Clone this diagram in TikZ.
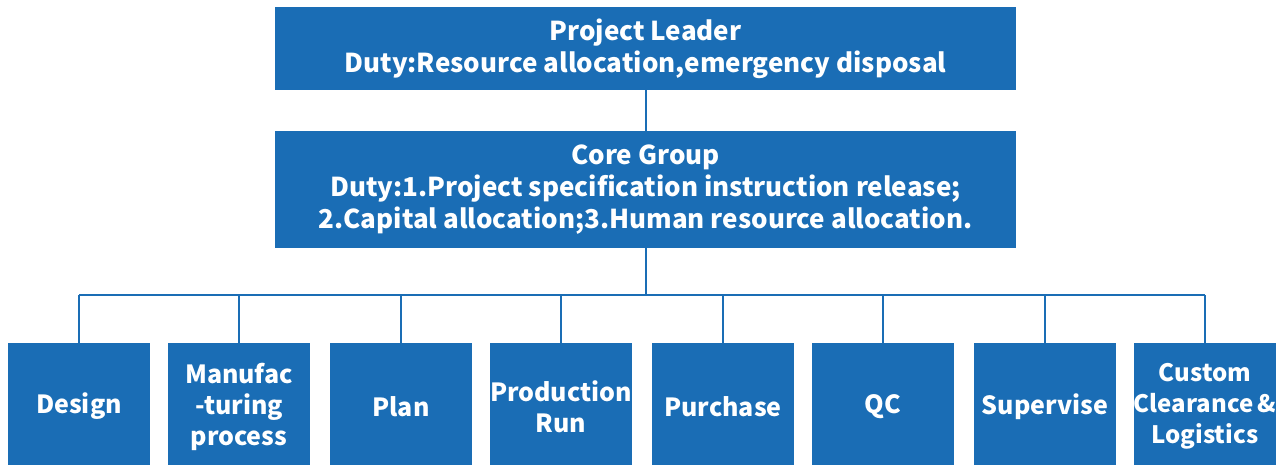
\documentclass[tikz,border=0pt]{standalone}
\usepackage{fontspec}
\setmainfont{Noto Sans CJK SC}
\definecolor{boxblue}{HTML}{1A6DB5}
\begin{document}
\begin{tikzpicture}[x=1pt,y=-1pt,
  box/.style={fill=boxblue,draw=none,text=white,font=\bfseries\fontsize{25}{31}\selectfont,align=center,inner sep=0pt},
  bigbox/.style={box,font=\bfseries\fontsize{26}{32}\selectfont},
  link/.style={draw=boxblue,line width=2pt}]
\useasboundingbox (0,0) rectangle (1285,465);
\node[bigbox,minimum width=741pt,minimum height=83pt] (lead) at (645.5,48.5) {Project Leader\\Duty:Resource allocation,emergency disposal};
\node[bigbox,minimum width=741pt,minimum height=117pt] (core) at (645.5,189.5) {Core Group\\Duty:1.Project specification instruction release;\\2.Capital allocation;3.Human resource allocation.};
\foreach \n/\x/\t in {d1/79/Design, d2/239/{Manufac\\-turing\\process}, d3/401/Plan, d4/561/{Production\\Run}, d5/723/Purchase, d6/883/QC, d7/1045/Supervise}
  \node[box,minimum width=142pt,minimum height=127pt] (\n) at (\x,406.5) {\t};
\node[box,minimum width=142pt,minimum height=127pt,font=\bfseries\fontsize{24}{31}\selectfont] (d8) at (1205,406.5) {Custom\\Clearance\,\&\\Logistics};
\draw[link] (lead.south) -- (core.north);
\draw[link] (core.south) -- ++(0,47) coordinate (bus);
\draw[link] (bus -| d1.north) -- (bus -| d8.north);
\foreach \n in {d1,d2,d3,d4,d5,d6,d7,d8}
  \draw[link] (bus -| \n.north) -- (\n.north);
\end{tikzpicture}
\end{document}
